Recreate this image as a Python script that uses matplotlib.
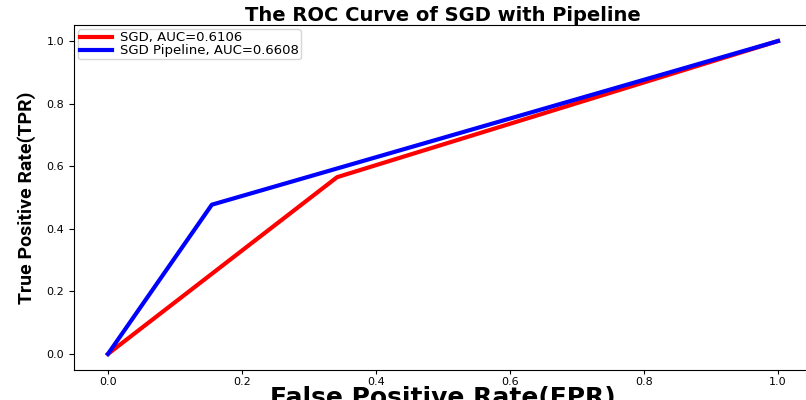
import numpy as np
import matplotlib
matplotlib.use("Agg")
import matplotlib.pyplot as plt

# ROC points
fpr_sgd = [0.0, 0.342, 1.0]
tpr_sgd = [0.0, 0.565, 1.0]
fpr_pipe = [0.0, 0.155, 1.0]
tpr_pipe = [0.0, 0.477, 1.0]
auc_sgd = 0.6106
auc_pipe = 0.6608
ticks = [0.0, 0.2, 0.4, 0.6, 0.8, 1.0]

fig = plt.figure(figsize=(8.06, 4.0), dpi=100)
ax = fig.add_axes([0.0924, 0.076, 0.9144, 0.8605])

ax.plot(fpr_sgd, tpr_sgd, color="red", lw=3, label="SGD, AUC=%.4f" % auc_sgd)
ax.plot(fpr_pipe, tpr_pipe, color="blue", lw=3, label="SGD Pipeline, AUC=%.4f" % auc_pipe)

ax.set_xlim(-0.05, 1.05)
ax.set_ylim(-0.05, 1.05)
ax.set_xticks(ticks)
ax.set_yticks(ticks)
ax.tick_params(axis="x", labelsize=8, length=3, pad=2)
ax.tick_params(axis="y", labelsize=8, length=3.5, pad=4)

ax.set_title("The ROC Curve of SGD with Pipeline", fontsize=14, fontweight="bold", pad=2.5)
ax.set_xlabel("False Positive Rate(FPR)", fontsize=18, fontweight="bold")
ax.xaxis.set_label_coords(0.5, -0.047)
ax.set_ylabel("True Positive Rate(TPR)", fontsize=14, fontweight="bold",
              family=["Roboto", "DejaVu Sans"])
ax.yaxis.set_label_coords(-0.052, 0.5)

ax.legend(loc="upper left", fontsize=9.5, labelspacing=0.0, handlelength=2.4,
          handletextpad=0.6, borderpad=0.15, borderaxespad=0.3)

fig.savefig("out.png", dpi=100)
